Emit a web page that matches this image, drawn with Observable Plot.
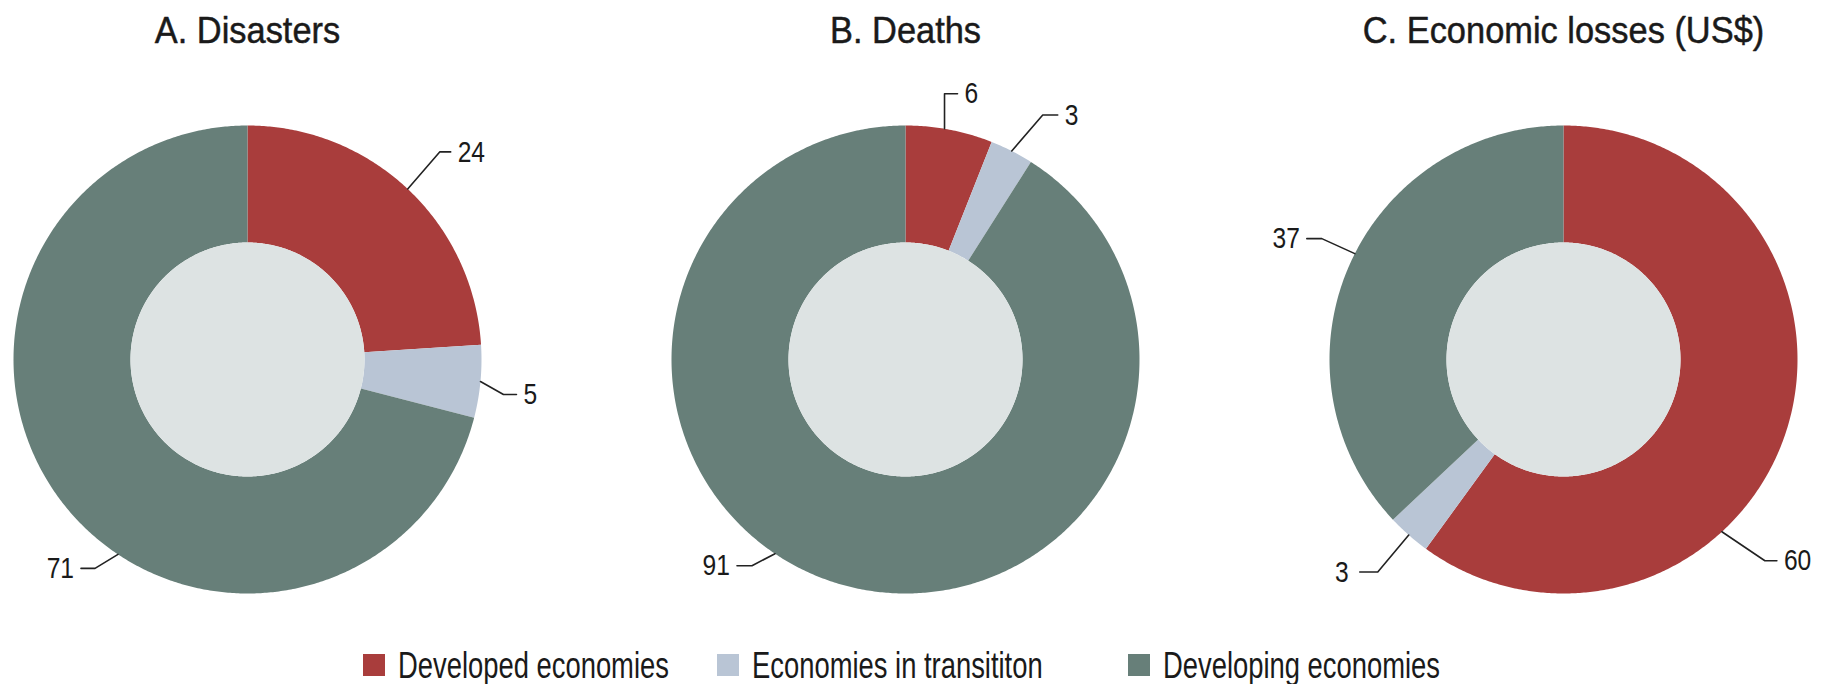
<!DOCTYPE html>
<html>
<head>
<meta charset="utf-8">
<script src="https://cdn.jsdelivr.net/npm/d3@7"></script>
<script src="https://cdn.jsdelivr.net/npm/@observablehq/plot@0.6"></script>
<style>
  body { margin: 0; background: #ffffff; }
  #chart { width: 1833px; height: 684px; position: relative; overflow: hidden;
    font-family: "Liberation Sans", Arial, sans-serif; color: #1a1a1a; }
  #chart svg { display: block; font-family: inherit; }
  .legend { position: relative; height: 52px; width: 1833px; }
  .item { position: absolute; top: 14px; height: 38px; display: flex; align-items: center;
    font-size: 37px; line-height: 37px; color: #1a1a1a; white-space: nowrap; }
  .sw { width: 22px; height: 22px; margin-right: 13px; flex: none; }
  .lt { display: inline-block; line-height: 37px; transform: scaleX(0.74); transform-origin: 0 50%; }
</style>
</head>
<body>
<div id="chart"></div>
<script>
// ---- data ----
const panels = ["A. Disasters", "B. Deaths", "C. Economic losses (US$)"];
const categories = ["Developed economies", "Economies in transititon", "Developing economies"];
const disasters = [24, 5, 71];
const deaths = [6, 3, 91];
const economicLosses = [60, 3, 37];
const colors = ["#a93d3c", "#b9c5d5", "#677f79"];
const holeColor = "#dde3e3";

// ---- layout (label leader styling, per panel, per category) ----
// angle: null = slice mid angle; elbow offsets in px (screen, +dy down); side +1 right / -1 left
const leaderLayout = [
  [ {angle: null, edx: 32, edy: -37, hlen: 11, side: 1},
    {angle: null, edx: 23, edy: 13, hlen: 13, side: 1},
    {angle: 213.6, edx: -23, edy: 14, hlen: 14, side: -1} ],
  [ {angle: 9.6, edx: 0, edy: -35, hlen: 13, side: 1},
    {angle: null, edx: 31, edy: -36, hlen: 15, side: 1},
    {angle: 213.9, edx: -23, edy: 12, hlen: 15, side: -1} ],
  [ {angle: 137.4, edx: 43, edy: 29, hlen: 12, side: 1},
    {angle: null, edx: -31, edy: 37, hlen: 18, side: -1, gap: 11},
    {angle: 296.9, edx: -33, edy: -15, hlen: 15, side: -1} ]
];

const W = 1833, H = 632;
const R = 234, R0 = 117;       // outer / inner radius (px = data units)
const half = 247;              // half facet width
const cy = 359;                // center y in px from top
const gap = 7;

const values = [disasters, deaths, economicLosses];
const rad = d => d * Math.PI / 180;

const slicePts = [], holePts = [], leaderPts = [], labels = [];
panels.forEach((panel, p) => {
  const vals = values[p];
  const total = d3.sum(vals);
  let acc = 0;
  vals.forEach((v, c) => {
    const a0 = acc / total * 360, a1 = (acc + v) / total * 360;
    acc += v;
    const key = panel + "|" + c;
    const n = Math.max(2, Math.ceil((a1 - a0) / 0.5));
    for (let i = 0; i <= n; i++) {
      const a = rad(a0 + (a1 - a0) * i / n);
      slicePts.push({panel, key, category: categories[c], x: R * Math.sin(a), y: R * Math.cos(a)});
    }
    for (let i = n; i >= 0; i--) {
      const a = rad(a0 + (a1 - a0) * i / n);
      slicePts.push({panel, key, category: categories[c], x: R0 * Math.sin(a), y: R0 * Math.cos(a)});
    }
    const L = leaderLayout[p][c];
    const am = rad(L.angle == null ? (a0 + a1) / 2 : L.angle);
    const ax = R * Math.sin(am), ay = R * Math.cos(am);
    const ex = ax + L.edx, ey = ay - L.edy;
    const fx = ex + L.side * L.hlen;
    leaderPts.push({panel, key, x: ax, y: ay}, {panel, key, x: ex, y: ey}, {panel, key, x: fx, y: ey});
    labels.push({panel, text: String(v), x: fx + L.side * (L.gap ?? gap), y: ey, side: L.side});
  });
  for (let i = 0; i <= 360; i++) {
    holePts.push({panel, x: R0 * Math.sin(rad(i)), y: R0 * Math.cos(rad(i))});
  }
});

const chart = Plot.plot({
  width: W,
  height: H,
  margin: 0,
  marginRight: 23,
  x: {domain: [-half, half], axis: null},
  y: {domain: [-(H - cy), cy], axis: null},
  fx: {domain: panels, paddingInner: 164 / 658, paddingOuter: 0, axis: null},
  color: {domain: categories, range: colors},
  style: {fontFamily: "inherit", color: "#1a1a1a", background: "#ffffff"},
  marks: [
    Plot.line(slicePts, {x: "x", y: "y", z: "key", fill: "category", stroke: "none", fx: "panel", curve: "linear"}),
    Plot.line(holePts, {x: "x", y: "y", z: "panel", fill: holeColor, stroke: "none", fx: "panel"}),
    Plot.line(leaderPts, {x: "x", y: "y", z: "key", stroke: "#222222", strokeWidth: 1.6, fx: "panel",
      strokeLinejoin: "round"}),
    Plot.text(labels.filter(d => d.side > 0), {x: "x", y: "y", text: "text", fx: "panel",
      textAnchor: "start", lineAnchor: "middle", fontSize: 30, fill: "#1a1a1a"}),
    Plot.text(labels.filter(d => d.side < 0), {x: "x", y: "y", text: "text", fx: "panel",
      textAnchor: "end", lineAnchor: "middle", fontSize: 30, fill: "#1a1a1a"}),
    Plot.text(panels, {fx: d => d, text: d => d, frameAnchor: "top", lineAnchor: "bottom",
      dy: 42, fontSize: 37, fill: "#1a1a1a", stroke: "#1a1a1a", strokeWidth: 0.5})
  ]
});

// condensed look: squeeze each text horizontally around its own anchor
chart.querySelectorAll("text").forEach(t => {
  const k = panels.includes(t.textContent) ? 0.93 : 0.82;
  const tr = t.getAttribute("transform");
  if (tr) {
    t.setAttribute("transform", tr + ` scale(${k},1)`);
  } else {
    const x = +t.getAttribute("x") || 0, y = +t.getAttribute("y") || 0;
    t.removeAttribute("x"); t.removeAttribute("y");
    t.setAttribute("transform", `translate(${x},${y}) scale(${k},1)`);
  }
});

const root = document.getElementById("chart");
root.appendChild(chart);

// legend below the SVG
const legend = document.createElement("div");
legend.className = "legend";
const legendLeft = [363, 717, 1128];
categories.forEach((c, i) => {
  const item = document.createElement("div");
  item.className = "item";
  item.style.left = legendLeft[i] + "px";
  const sw = document.createElement("span");
  sw.className = "sw";
  sw.style.background = colors[i];
  const t = document.createElement("span");
  t.className = "lt";
  t.textContent = c;
  item.appendChild(sw);
  item.appendChild(t);
  legend.appendChild(item);
});
root.appendChild(legend);
</script>
</body>
</html>
